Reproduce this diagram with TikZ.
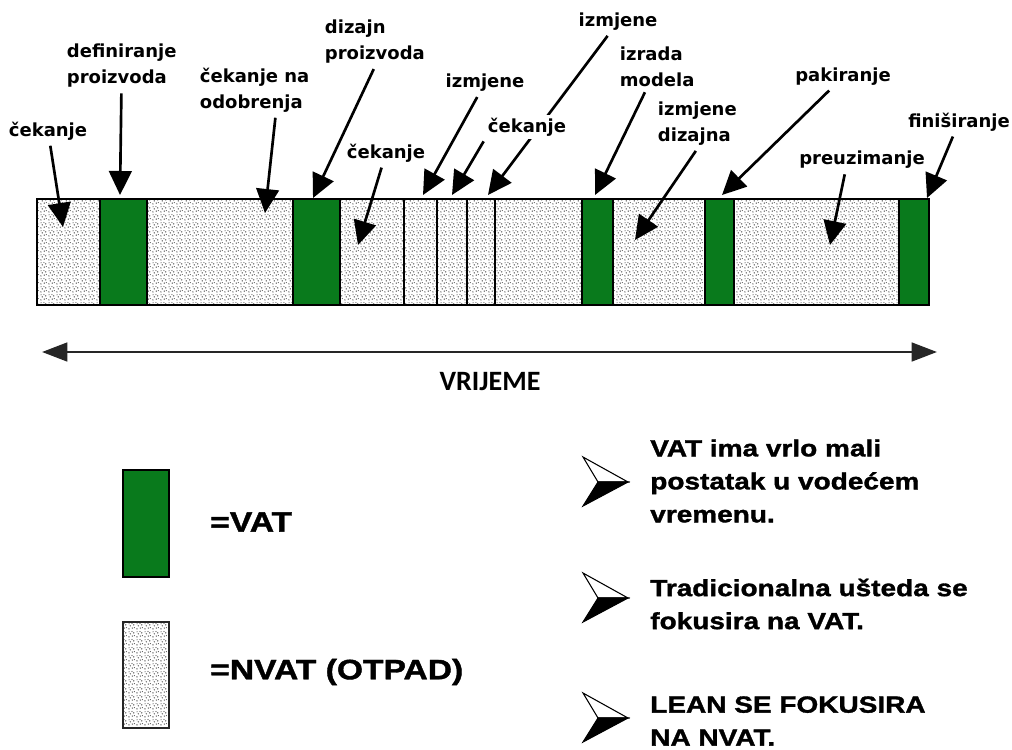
\documentclass[tikz,border=0pt]{standalone}
\usepackage{fontspec}
\usetikzlibrary{arrows.meta,patterns}
\newfontfamily\lblfont{DejaVu Sans}
\newfontfamily\timefont{Carlito}
\newfontfamily\blackfont[FakeStretch=1.2,BoldFeatures={FakeBold=1.5}]{Liberation Sans}
\definecolor{vatgreen}{RGB}{9,122,28}

% speckled fill for the waiting parts
\pgfdeclarepatternformonly{speckles}{\pgfqpoint{0pt}{0pt}}{\pgfqpoint{6pt}{6pt}}{\pgfqpoint{6pt}{6pt}}{
  \pgfpathcircle{\pgfqpoint{0.8pt}{0.9pt}}{0.6pt}
  \pgfpathcircle{\pgfqpoint{3.6pt}{1.6pt}}{0.6pt}
  \pgfpathcircle{\pgfqpoint{1.9pt}{3.5pt}}{0.6pt}
  \pgfpathcircle{\pgfqpoint{4.8pt}{4.3pt}}{0.6pt}
  \pgfpathcircle{\pgfqpoint{0.9pt}{5.2pt}}{0.5pt}
  \pgfpathcircle{\pgfqpoint{3.3pt}{5.4pt}}{0.5pt}
  \pgfpathcircle{\pgfqpoint{5.3pt}{2.0pt}}{0.5pt}
  \pgfusepath{fill}
}

\begin{document}
\begin{tikzpicture}[
    x=0.75pt, y=-0.75pt,
    font=\lblfont\bfseries\fontsize{13.5}{19.5}\selectfont,
    vat/.style={draw=black, line width=2pt, fill=vatgreen},
    nvat/.style={pattern=speckles, pattern color=black!65},
    lbl/.style={align=left, inner sep=2pt},
    pointer/.style={-{Triangle[length=18pt, width=17pt]}, line width=2pt, shorten <=2pt},
    timeline/.style={{Triangle[length=19pt, width=14pt]}-{Triangle[length=19pt, width=14pt]}, line width=2pt, black!85},
    bigtext/.style={font=\blackfont\bfseries\fontsize{21}{25}\selectfont, anchor=west, inner sep=0pt},
    note/.style={font=\blackfont\bfseries\fontsize{17.5}{24.75}\selectfont, align=left, anchor=west, inner sep=0pt}
  ]
  \useasboundingbox (0,0) rectangle (1012,749);

  % Time bar
  \fill[white] (37,199) rectangle (929,305);
  \fill[nvat] (37,199) rectangle (929,305);
  \foreach \a/\b in {100/147, 293/340, 582/613, 705/734, 899/929}
    \draw[vat] (\a,199) rectangle (\b,305);
  \foreach \x in {404, 437, 467, 495}
    \draw[line width=2pt] (\x,199) -- (\x,305);
  \draw[line width=2pt] (37,199) rectangle (929,305);

  % Labels above the bar
  \node[lbl] (cek1) at (48,131) {čekanje};
  \node[lbl, anchor=west] (defin) at (64,66) {definiranje\\proizvoda};
  \node[lbl, anchor=west] (cekodob) at (197,90) {čekanje na\\odobrenja};
  \node[lbl, anchor=west] (dizajn) at (322,42) {dizajn\\proizvoda};
  \node[lbl] (cek2) at (386,153) {čekanje};
  \node[lbl] (izmj1) at (485,83) {izmjene};
  \node[lbl] (izmj2) at (618,22) {izmjene};
  \node[lbl, anchor=west] (izrada) at (617,67) {izrada\\modela};
  \node[lbl, anchor=west] (izmdiz) at (655,124) {izmjene\\dizajna};
  \node[lbl] (pakir) at (843,77) {pakiranje};
  \node[lbl] (preuz) at (862,160) {preuzimanje};
  \node[lbl] (finis) at (959,122) {finiširanje};

  % Arrow tips in the bar
  \coordinate (cek1-tip) at (63,227);
  \coordinate (defin-tip) at (120,195);
  \coordinate (cekodob-tip) at (265,213);
  \coordinate (dizajn-tip) at (313,198);
  \coordinate (cek2-tip) at (358,245);
  \coordinate (izmj1-tip) at (423,195);
  \coordinate (cek3-tip) at (452,195);
  \coordinate (izmj2-tip) at (488,195);
  \coordinate (izrada-tip) at (595,195);
  \coordinate (izmdiz-tip) at (635,240);
  \coordinate (pakir-tip) at (722,195);
  \coordinate (preuz-tip) at (830,245);
  \coordinate (finis-tip) at (927,198);

  \draw[pointer] (cek1) -- (cek1-tip);
  \draw[pointer] (defin) -- (defin-tip);
  \draw[pointer] (cekodob.-50) -- (cekodob-tip);
  \draw[pointer] (dizajn.south) -- (dizajn-tip);
  \draw[pointer] (cek2) -- (cek2-tip);
  \draw[pointer] (izmj1) -- (izmj1-tip);
  \draw[pointer] (izmj2) -- (izmj2-tip);
  % covers the long izmjene line
  \node[lbl, fill=white] (cek3) at (527,127) {čekanje};
  \draw[pointer] (cek3.south west) -- (cek3-tip);
  \draw[pointer] (izrada) -- (izrada-tip);
  \draw[pointer] (izmdiz.south) -- (izmdiz-tip);
  \draw[pointer] (pakir) -- (pakir-tip);
  \draw[pointer] (preuz.-145) -- (preuz-tip);
  \draw[pointer] (finis) -- (finis-tip);

  % Time axis
  \coordinate (t-start) at (42,352);
  \coordinate (t-end) at (937,352);
  \draw[timeline] (t-start) -- (t-end);
  \node[font=\timefont\bfseries\fontsize{21}{25}\selectfont] (vrijeme) at (490,382) {VRIJEME};

  % Legend
  \draw[vat, line width=1.5pt] (123,470) rectangle (169,577);
  \draw[nvat, preaction={fill=white}, line width=1.5pt, draw=black!85] (123,622) rectangle (169,728);
  \node[bigtext] (vat) at (210,522) {=VAT};
  \node[bigtext] (nvat) at (210,672) {=NVAT (OTPAD)};

  % Bullets
  \foreach \c in {482, 598, 718} {
    \filldraw[fill=white, line width=0.8pt] (583,\c-25) -- (628,\c) -- (598,\c) -- cycle;
    \filldraw[line width=0.8pt] (598,\c) -- (628,\c) -- (583,\c+24) -- cycle;
  }
  \node[note] (note1) at (650,481) {VAT ima vrlo mali\\postatak u vodećem\\vremenu.};
  \node[note] (note2) at (650,604) {Tradicionalna ušteda se\\fokusira na VAT.};
  \node[note] (note3) at (650,721) {LEAN SE FOKUSIRA\\NA NVAT.};

\end{tikzpicture}
\end{document}
